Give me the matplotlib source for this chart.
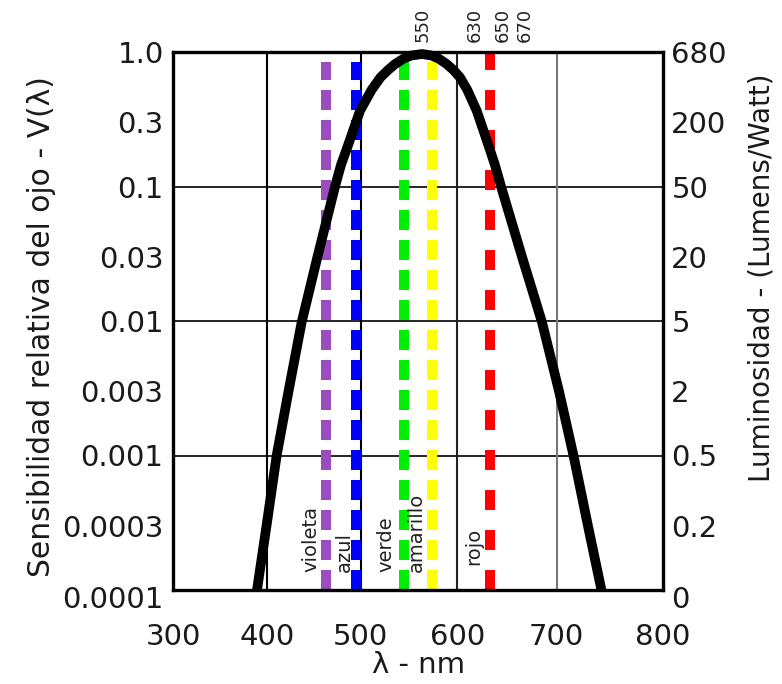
import numpy as np
import matplotlib
matplotlib.use("Agg")
import matplotlib.pyplot as plt
from matplotlib.patches import Rectangle
from matplotlib.transforms import ScaledTranslation, blended_transform_factory

# ---- data ----
wavelength = [389.6, 399.8, 410.6, 423.2, 437.2, 454.0, 472.7, 479.0, 487.0, 499.3,
              511.2, 520.5, 528.4, 535.6, 544.7, 552.5, 563.6, 573.2, 580.5, 589.0,
              595.9, 602.7, 610.1, 619.5, 630.9, 637.9, 644.0, 665.1, 685.2, 702.2,
              715.8, 729.4, 742.1]
sensitivity = [1e-4, 3e-4, 1e-3, 3e-3, 0.0098, 0.030, 0.1, 0.1445, 0.207, 0.366,
               0.522, 0.648, 0.735, 0.814, 0.895, 0.942, 0.966, 0.942, 0.895, 0.814,
               0.735, 0.648, 0.522, 0.366, 0.207, 0.1445, 0.1, 0.030, 0.0098, 3e-3,
               1e-3, 3e-4, 1e-4]

color_names = ["violeta", "azul", "verde", "amarillo", "rojo"]
color_nm = [463, 495, 545, 574, 633]
color_top = [0.843, 0.843, 0.843, 0.843, 1.0]
color_hex = ["#9b4dbf", "#0000ff", "#00ee00", "#ffff00", "#ff0000"]
label_nm = [447, 483, 526, 558, 617]

left_ticks = [1.0, 0.3, 0.1, 0.03, 0.01, 0.003, 0.001, 0.0003, 0.0001]
left_labels = ["1.0", "0.3", "0.1", "0.03", "0.01", "0.003", "0.001", "0.0003", "0.0001"]
right_labels = ["680", "200", "50", "20", "5", "2", "0.5", "0.2", "0"]
x_ticks = [300, 400, 500, 600, 700, 800]
top_labels = ["550", "630", "650", "670"]
top_nm = [564.5, 618, 646, 668]

# ---- figure ----
plt.rcParams['lines.scale_dashes'] = False
W, H = 782, 684
fig = plt.figure(figsize=(W / 100, H / 100), dpi=100)
x0, x1, yt, yb = 173.3, 663, 52, 590
ax = fig.add_axes([x0 / W, 1 - yb / H, (x1 - x0) / W, (yb - yt) / H])

# slightly non-uniform wavelength axis as in the original drawing
anchor_nm = np.array([300, 400, 500, 600, 700, 800], float)
anchor_px = np.array([173.3, 266.7, 360.7, 457.3, 556.7, 663.0])
ax.set_xscale('function', functions=(lambda v: np.interp(v, anchor_nm, anchor_px),
                                     lambda p: np.interp(p, anchor_px, anchor_nm)))
ax.set_yscale('log')
ax.set_xlim(300, 800)
ax.set_ylim(1e-4, 1.0)

# grid
for g in [0.1, 0.01, 0.001]:
    ax.axhline(g, color='black', lw=1.2, zorder=1)
for g, c in zip([400, 500, 600, 700], ['black', 'black', '#222222', '#777777']):
    ax.axvline(g, color=c, lw=1.5, zorder=1)

# colour lines
for nm, top, c in zip(color_nm, color_top, color_hex):
    dash = (14.4, 14.4) if c == "#ff0000" else (14.4, 7.2)
    ax.plot([nm, nm], [1e-4, top], color=c, lw=7.2, dashes=dash,
            solid_capstyle='butt', dash_capstyle='butt', zorder=2)

# curve
curve, = ax.plot(wavelength, sensitivity, color='black', lw=7, zorder=3,
                 solid_capstyle='butt', solid_joinstyle='round')
curve.set_clip_path(Rectangle((0, 0), 1, 1.03, transform=ax.transAxes))

# labels for colours
tr = blended_transform_factory(ax.transData, ax.transAxes)
for name, nm in zip(color_names, label_nm):
    yy = 0.046 if name == "rojo" else 0.033
    ax.text(nm, yy, name, rotation=90, ha='center', va='bottom',
            fontsize=14, transform=tr, color='#222222', zorder=4)

for lab, nm in zip(top_labels, top_nm):
    ax.text(nm, 1.019, lab, rotation=90, ha='center', va='bottom',
            fontsize=13, transform=tr, color='#222222', clip_on=False)

# axes styling
ax.set_xticks(x_ticks)
ax.set_xticklabels([str(v) for v in x_ticks])
ax.set_yticks(left_ticks)
ax.set_yticklabels(left_labels)
ax.minorticks_off()
ax.tick_params(axis='both', length=0, labelsize=21, colors='#1a1a1a')
ax.tick_params(axis='x', pad=24)
ax.tick_params(axis='y', pad=7)
for s in ax.spines.values():
    s.set_linewidth(2.4)
    s.set_color('black')

ax2 = ax.twinx()
ax2.set_yscale('log')
ax2.set_ylim(1e-4, 1.0)
ax2.set_yticks(left_ticks)
ax2.set_yticklabels(right_labels)
ax2.minorticks_off()
ax2.tick_params(axis='y', length=0, labelsize=21, pad=6, colors='#1a1a1a')
for s in ax2.spines.values():
    s.set_visible(False)

off = ScaledTranslation(0, -7 / 100, fig.dpi_scale_trans)
ax.get_yticklabels()[-1].set_transform(ax.get_yticklabels()[-1].get_transform() + off)
ax2.get_yticklabels()[-1].set_transform(ax2.get_yticklabels()[-1].get_transform() + off)

ax.set_xlabel("λ - nm", fontsize=21, color='#1a1a1a', labelpad=0)
ax.set_ylabel("Sensibilidad relativa del ojo - V(λ)", fontsize=21.4, color='#1a1a1a', labelpad=4.5)
ax.yaxis.label.set_y(0.49)
ax2.set_ylabel("Luminosidad - (Lumens/Watt)", fontsize=20, color='#1a1a1a', labelpad=15)
ax2.yaxis.label.set_y(0.58)

fig.savefig("out.png", dpi=100, facecolor='white')
